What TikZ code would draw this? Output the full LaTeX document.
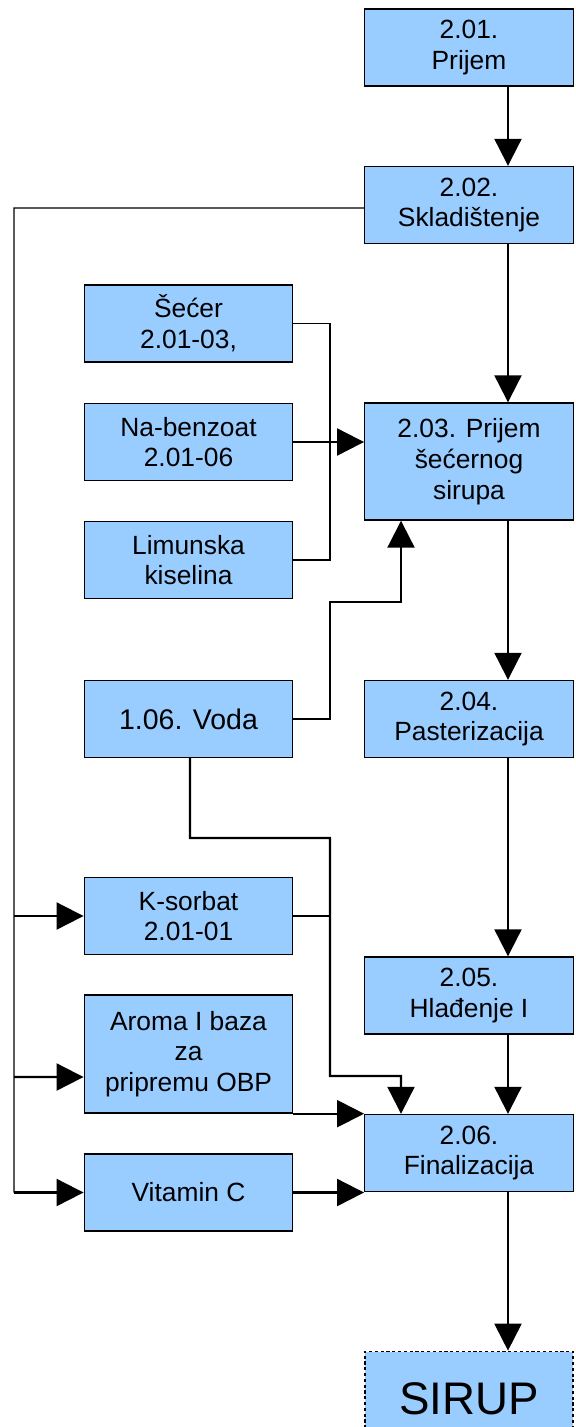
\documentclass[tikz,border=0pt]{standalone}
\usepackage{fontspec}
\setmainfont{Liberation Sans}
\usetikzlibrary{arrows.meta}
\definecolor{plava}{RGB}{153,204,255}

\tikzset{
  blok/.style={draw, line width=0.8pt, fill=plava, align=center,
    minimum width=4.17cm, minimum height=1.54cm, inner sep=0pt,
    font=\fontsize{15}{17.5}\selectfont},
  visered/.style={blok, execute at begin node={\rule{0pt}{15pt}}},
  tok/.style={-{Triangle[length=0.54cm,width=0.54cm]}, line width=1.2pt},
  veza/.style={line width=0.8pt},
}

\begin{document}
\begin{tikzpicture}[x=0.02cm,y=-0.02cm]
\useasboundingbox (0,0) rectangle (575,1427);

% glavni tok (desno)
\node[visered] (p201) at (469,47.5) {2.01.\\Prijem};
\node[visered] (p202) at (469,205) {2.02.\\Skladištenje};
\node[visered, minimum height=2.34cm] (p203) at (469,461.5) {2.03. Prijem\\šećernog\\sirupa};
\node[visered] (p204) at (469,719) {2.04.\\Pasterizacija};
\node[visered] (p205) at (469,995.5) {2.05.\\Hlađenje I};
\node[visered] (p206) at (469,1153) {2.06.\\Finalizacija};
\node[blok, line width=1pt, dash pattern=on 1.8pt off 1.5pt,
  minimum height=1.9cm, font=\fontsize{26}{30}\selectfont] (sirup) at (469,1399) {SIRUP};

% sirovine (lijevo)
\node[visered] (secer) at (188.5,323.5) {Šećer\\2.01-03,};
\node[visered] (nabenz) at (188.5,442) {Na-benzoat\\2.01-06};
\node[visered] (limun) at (188.5,560) {Limunska\\kiselina};
\node[blok, font=\fontsize{16.2}{19}\selectfont] (voda) at (188.5,719) {1.06. Voda};
\node[visered] (ksorbat) at (188.5,916) {K-sorbat\\2.01-01};
\node[visered, minimum height=2.36cm] (aroma) at (188.5,1054) {Aroma I baza\\za\\pripremu OBP};
\node[blok] (vitc) at (188.5,1192.5) {Vitamin C};

\coordinate (lijevo) at (14,208);

\draw[tok] ([xshift=0.78cm]p201.south) -- ([xshift=0.78cm]p202.north);
\draw[tok] ([xshift=0.78cm]p202.south) -- ([xshift=0.78cm]p203.north);
\draw[tok] ([xshift=0.78cm]p203.south) -- ([xshift=0.78cm]p204.north);
\draw[tok] ([xshift=0.78cm]p204.south) -- ([xshift=0.78cm]p205.north);
\draw[tok] ([xshift=0.78cm]p205.south) -- ([xshift=0.78cm]p206.north);
\draw[tok] ([xshift=0.78cm]p206.south) -- ([xshift=0.78cm]sirup.north);

% skladiste -> dodaci
\draw[veza] ([yshift=-0.06cm]p202.west) -- (lijevo) -- (lijevo |- vitc.west);
\draw[tok] (lijevo |- ksorbat.west) -- (ksorbat.west);
\draw[tok] (lijevo |- 0,1077) -- ([yshift=-0.46cm]aroma.west);
\draw[tok] (lijevo |- vitc.west) -- (vitc.west);

% secer, benzoat, limunska
\draw[veza] (secer.east) -| (330,442) |- (limun.east);
\draw[tok] (nabenz.east) -- (nabenz.east -| p203.west);

% voda
\draw[tok] (voda.east) -| (330,602) -| ([xshift=-1.36cm]p203.south);
\draw[tok] ([xshift=0.03cm]voda.south) |- (330,838) |- (401,1076)
  -- ([xshift=-1.36cm]p206.north);
\draw[veza] (ksorbat.east) -- (330,916);

\draw[tok] (aroma.south east) -- (aroma.south east -| p206.west);
\draw[tok] (vitc.east) -- (vitc.east -| p206.west);

\end{tikzpicture}
\end{document}
